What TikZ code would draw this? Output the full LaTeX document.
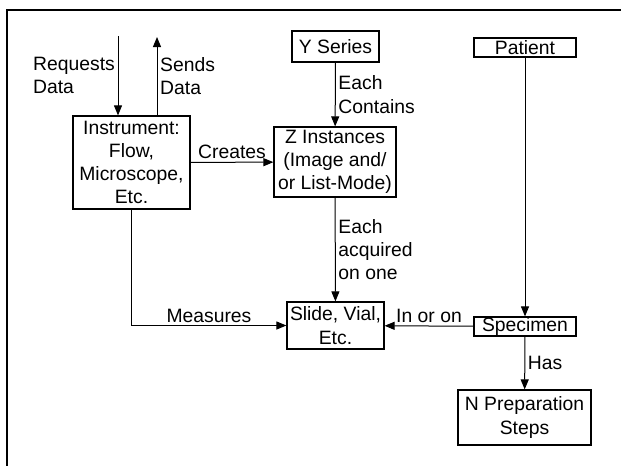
\documentclass[tikz,border=0pt]{standalone}
\usepackage{fontspec}
\setmainfont{Liberation Sans}
\usepackage{tikz}
\usetikzlibrary{arrows.meta,positioning}
\tikzstyle{box} = [draw, line width=0.9pt, inner sep=0pt, align=center]
\tikzstyle{arrow} = [line width=0.75pt, -{Triangle[length=7.5pt,width=6pt]}]
\tikzstyle{lbl} = [inner sep=2pt, align=left]

\begin{document}
\begin{tikzpicture}[x=0.75pt, y=-0.75pt, font=\fontsize{14.5}{17.4}\selectfont]
\useasboundingbox (0,0) rectangle (621,465);
% frame
\draw[line width=2.2pt] (7,470) -- (7,10) -- (630,10);

% boxes
\node[box, minimum width=87.75pt, minimum height=69.75pt] (instr) at (131.5,162.5) {Instrument:\\Flow,\\Microscope,\\Etc.};
\node[box, minimum width=91.5pt, minimum height=52.5pt] (zinst) at (335,162) {Z Instances\\(Image and/\\or List-Mode)};
\node[box, minimum width=65.25pt, minimum height=23.25pt] (yser) at (335.5,46.5) {Y Series};
\node[box, minimum width=76.5pt, minimum height=14.25pt] (patient) at (525,47.5) {Patient};
\node[box, minimum width=76.5pt, minimum height=14.25pt] (specimen) at (525,326.5) {Specimen};
\node[box, minimum width=72.75pt, minimum height=35.25pt] (slide) at (335.5,325.5) {Slide, Vial,\\Etc.};
\node[box, minimum width=99.75pt, minimum height=41.25pt] (prep) at (524.5,417.5) {N Preparation\\Steps};

% data in and out
\coordinate (reqtop) at (118,36);
\coordinate (sendtop) at (157,37);
\draw[arrow] (reqtop) -- node[lbl, left] {Requests\\Data} (reqtop |- instr.north);
\draw[arrow] (sendtop |- instr.north) -- node[lbl, right] {Sends\\Data} (sendtop);

% links
\draw[arrow] (instr) -- node[lbl, above] {Creates} (zinst);
\draw[arrow] (yser) -- node[lbl, right] {Each\\Contains} (zinst);
\draw[arrow] (zinst) -- node[lbl, right] {Each\\acquired\\on one} (slide);
\draw[arrow] (instr.south) |- node[lbl, pos=0.75, above] {Measures} (slide.west);
\draw[arrow] (patient) -- (specimen);
\draw[arrow] (specimen) -- node[lbl, above] {In or on} (slide);
\draw[arrow] (specimen) -- node[lbl, right] {Has} (prep);
\end{tikzpicture}
\end{document}
